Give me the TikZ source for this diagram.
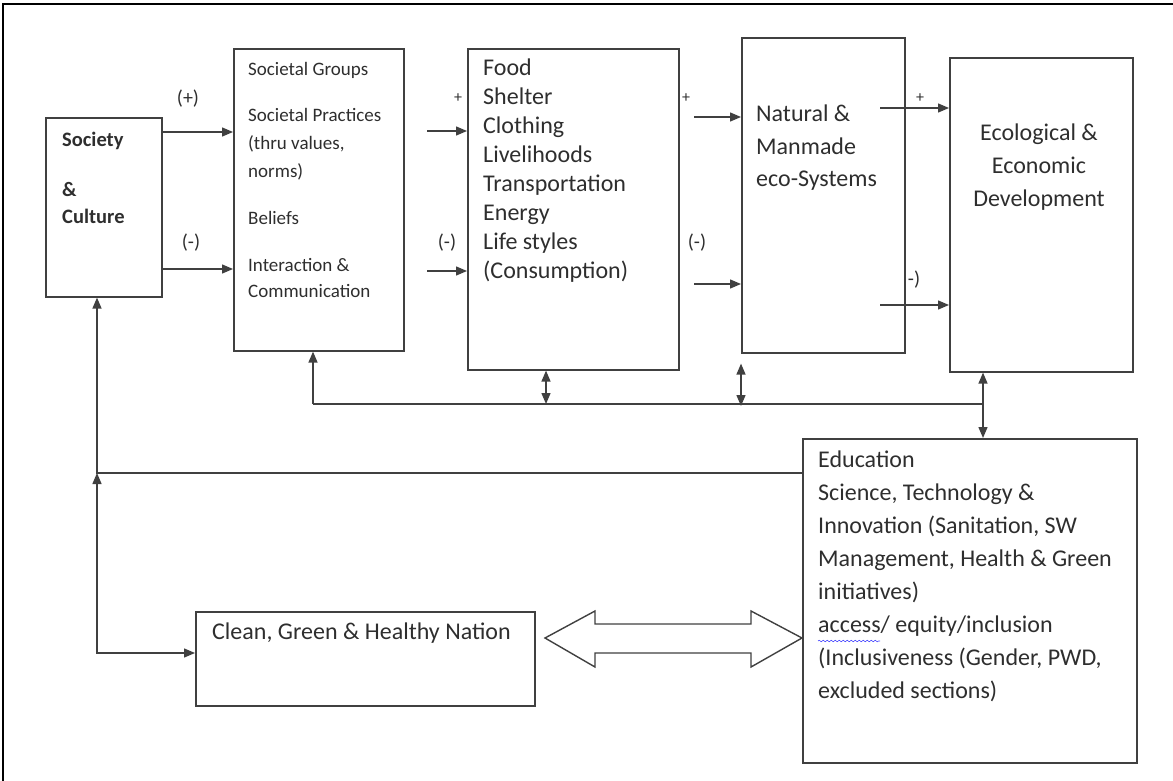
\documentclass[tikz,border=0pt]{standalone}
\usepackage{fontspec}
\setmainfont{Carlito}
\usetikzlibrary{arrows.meta,decorations.pathmorphing}

\definecolor{lncol}{HTML}{404040}
\definecolor{txcol}{HTML}{2E2E2E}

\tikzset{
  box/.style={draw=lncol, line width=1.6pt, inner sep=0pt, anchor=north west},
  txt/.style={anchor=north west, align=left, inner sep=0pt, text=txcol, font=\fontsize{24}{29}\selectfont},
  lbl/.style={inner sep=0pt, text=txcol, font=\fontsize{20}{24}\selectfont},
  plus/.style={inner sep=0pt, text=txcol, font=\fontsize{16}{20}\selectfont},
  conn/.style={draw=lncol, line width=1.4pt},
  arr/.style={conn, -{Triangle[length=11pt,width=9pt]}},
  dbl/.style={conn, {Triangle[length=11pt,width=9pt]}-{Triangle[length=11pt,width=9pt]}}
}

\begin{document}
\begin{tikzpicture}[x=1pt, y=-1pt]
\useasboundingbox (0,0) rectangle (1173,781);
\draw[line width=2.5pt] (3,781) -- (3,4) -- (1173,4);

\node[box, minimum width=116pt, minimum height=179pt] (society) at (45,117) {};
\node[box, minimum width=170pt, minimum height=302pt] (groups) at (233,48) {};
\node[box, minimum width=211pt, minimum height=321pt] (food) at (467,48) {};
\node[box, minimum width=163pt, minimum height=315pt] (natural) at (741,37) {};
\node[box, minimum width=183pt, minimum height=314pt] (eco) at (949,57) {};
\node[box, minimum width=334pt, minimum height=324pt] (edu) at (802,438) {};
\node[box, minimum width=339pt, minimum height=94pt] (clean) at (195,611) {};

\node[txt, font=\bfseries\fontsize{20.5}{27}\selectfont] (societytxt) at (62,127.6) {\strut Society\\[23pt] \&\\ Culture};
\node[txt, font=\fontsize{19}{28}\selectfont] (groupstxt) at (248,55.4) {\strut Societal Groups\\[18pt] Societal Practices\\ (thru values,\\ norms)\\[19pt] Beliefs\\[19pt] Interaction \&\\[-2pt] Communication};
\node[txt] (foodtxt) at (483,54.7) {\strut Food\\ Shelter\\ Clothing\\ Livelihoods\\ Transportation\\ Energy\\ Life styles\\ (Consumption)};
\node[txt, font=\fontsize{24}{32.5}\selectfont] (naturaltxt) at (756,98.8) {\strut Natural \&\\ Manmade\\ eco-Systems};
\node[txt, anchor=north, align=center, font=\fontsize{24}{33}\selectfont] (ecotxt) at (1039,117.4) {\strut Ecological \&\\ Economic\\ Development};
\node[txt, font=\fontsize{24}{33}\selectfont] (edutxt) at (818,444.4) {\strut Education\\ Science, Technology \&\\ Innovation (Sanitation, SW\\ Management, Health \& Green\\ initiatives)\\ access/ equity/inclusion\\ (Inclusiveness (Gender, PWD,\\ excluded sections)};
\node[txt, anchor=base west] (cleantxt) at (212,639.5) {Clean, Green \& Healthy Nation};
\draw[blue!70, line width=0.6pt, decorate, decoration={snake, amplitude=0.8pt, segment length=4pt}] (818,641) -- (880,641);

\node[lbl] (p1) at (188,99) {(+)};
\node[lbl] (m1) at (191,243) {(-)};
\node[plus] (p2) at (458,98) {+};
\node[lbl] (m2) at (447,243) {(-)};
\node[plus] (p3) at (686,98) {+};
\node[lbl] (m3) at (697,243) {(-)};
\node[plus] (p4) at (920,98) {+};
\node[lbl] (m4) at (914,280) {-)};

\draw[arr] (society.east |- 0,132) -- (groups.west |- 0,132);
\draw[arr] (society.east |- 0,269) -- (groups.west |- 0,269);
\draw[arr] (427,131) -- (food.west |- 0,131);
\draw[arr] (427,271) -- (food.west |- 0,271);
\draw[arr] (694,117) -- (natural.west |- 0,117);
\draw[arr] (694,284) -- (natural.west |- 0,284);
\draw[arr] (880,108) -- (eco.west |- 0,108);
\draw[arr] (880,305) -- (eco.west |- 0,305);

\coordinate (busl) at (313,404);
\coordinate (busr) at (983,404);
\draw[arr] (busl) -- (busl |- groups.south);
\draw[conn] (busl) -- (busr);
\draw[dbl] (546,369 |- food.south) -- (546,404);
\draw[dbl] ([yshift=-10pt]natural.south west) -- (741,406);
\draw[dbl] (busr |- eco.south) -- (busr |- edu.north);

\coordinate (junc) at (97,473);
\coordinate (cl) at (97,653);
\draw[arr] (edu.west |- junc) -- (junc) -- (junc |- society.south);
\draw[dbl] (junc) -- (cl) -- (clean.west |- cl);

\draw[draw=lncol, line width=1.4pt, fill=white] (545,638) -- (595,611) -- (595,624) -- (751,624) -- (751,611) -- (edu.west |- 0,638) -- (751,667) -- (751,653) -- (595,653) -- (595,667) -- cycle;
\end{tikzpicture}
\end{document}
